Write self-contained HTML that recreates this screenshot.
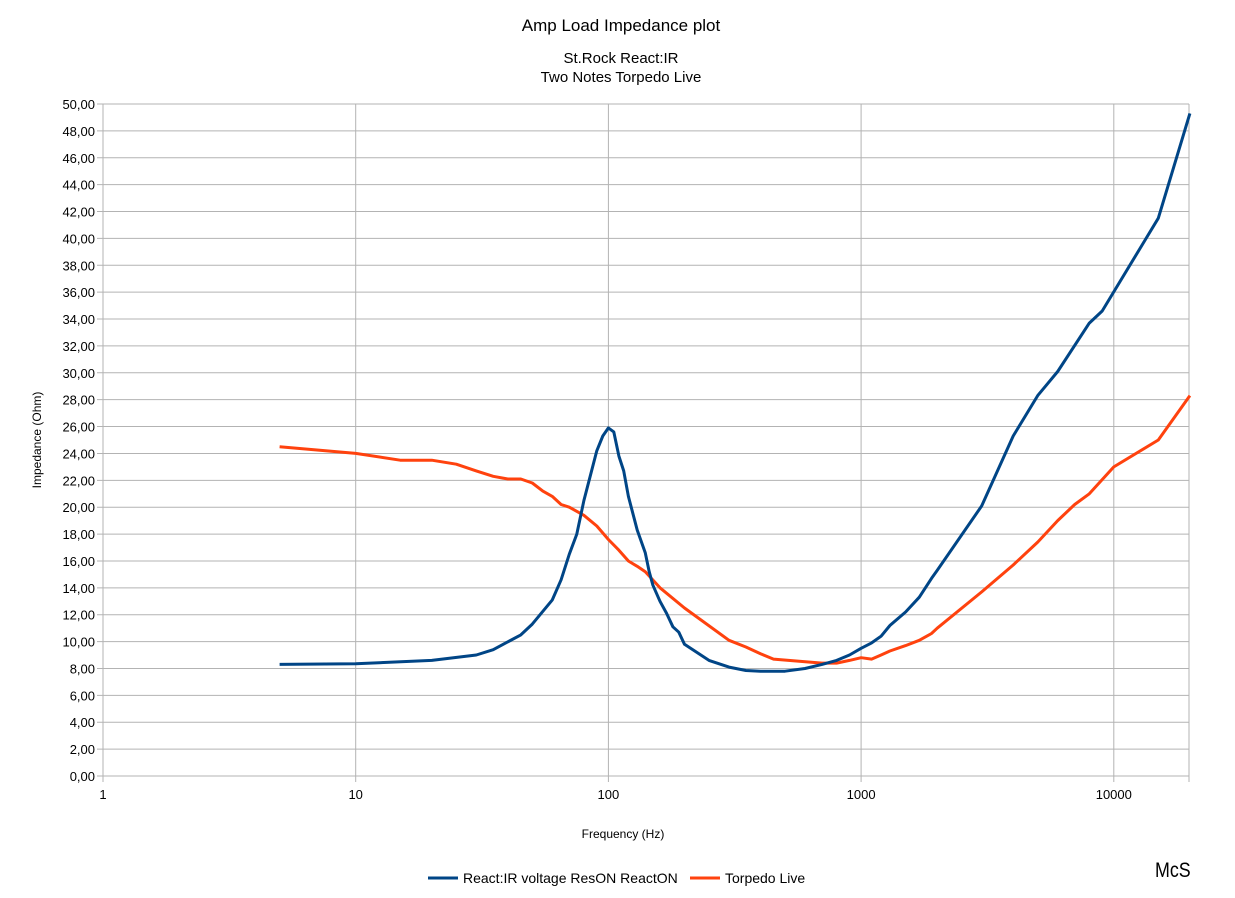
<!DOCTYPE html>
<html><head><meta charset="utf-8"><style>
body{margin:0;background:#fff;}
svg{display:block;font-family:"Liberation Sans",sans-serif;}
</style></head><body>
<svg id="s" width="1235" height="898" xmlns="http://www.w3.org/2000/svg">
<rect width="1235" height="898" fill="#fff"/>
<g id="grid"></g>
<text x="621" y="31" text-anchor="middle" font-size="17">Amp Load Impedance plot</text>
<text x="621" y="63" text-anchor="middle" font-size="15">St.Rock React:IR</text>
<text x="621" y="82" text-anchor="middle" font-size="15">Two Notes Torpedo Live</text>
<text x="623" y="838" text-anchor="middle" font-size="12">Frequency (Hz)</text>
<text transform="translate(41,440) rotate(-90)" text-anchor="middle" font-size="12">Impedance (Ohm)</text>
<line x1="428" y1="878" x2="458" y2="878" stroke="#004586" stroke-width="3"/>
<text x="463" y="883" font-size="14">React:IR voltage ResON ReactON</text>
<line x1="690" y1="878" x2="720" y2="878" stroke="#ff420e" stroke-width="3"/>
<text x="725" y="883" font-size="14">Torpedo Live</text>
<text x="1155" y="877" font-size="21" transform="scale(0.85,1)" transform-origin="1155 877">McS</text>
<g id="series"></g>
</svg>
<script>
const NS="http://www.w3.org/2000/svg";
const X=f=>103+252.7*Math.log10(f), Y=v=>776-13.44*v;
const g=document.getElementById('grid');
function el(p,t,a,txt){const e=document.createElementNS(NS,t);for(const k in a)e.setAttribute(k,a[k]);if(txt!==undefined)e.textContent=txt;p.appendChild(e);return e;}
for(let v=0;v<=50;v+=2){const y=Y(v);el(g,'line',{x1:97,x2:1189,y1:y,y2:y,stroke:'#b3b3b3','stroke-width':1});
el(g,'text',{x:95,y:y+5,'text-anchor':'end','font-size':13},v.toFixed(2).replace('.',','));}
[1,10,100,1000,10000].forEach(f=>{const x=X(f);el(g,'line',{x1:x,x2:x,y1:104,y2:782,stroke:'#b3b3b3','stroke-width':1});
el(g,'text',{x:x,y:799,'text-anchor':'middle','font-size':13},String(f));});
el(g,'line',{x1:1189,x2:1189,y1:104,y2:782,stroke:'#b3b3b3','stroke-width':1});
const blue=[[5,8.3],[10,8.35],[20,8.6],[30,9.0],[35,9.4],[45,10.5],[50,11.3],[60,13.1],[65,14.6],[70,16.5],[75,18.0],[80,20.5],[90,24.2],[95,25.3],[100,25.9],[105,25.6],[110,23.8],[115,22.7],[120,20.8],[130,18.3],[140,16.6],[145,15.2],[150,14.2],[160,13.0],[170,12.1],[180,11.1],[190,10.7],[200,9.8],[250,8.6],[300,8.1],[350,7.85],[400,7.8],[500,7.8],[600,8.0],[700,8.3],[800,8.6],[900,9.0],[1000,9.5],[1100,9.9],[1200,10.4],[1300,11.2],[1500,12.2],[1700,13.3],[1900,14.7],[2000,15.3],[3000,20.1],[4000,25.3],[5000,28.3],[6000,30.1],[8000,33.7],[9000,34.6],[15000,41.5],[20000,49.3]];
const orange=[[5,24.5],[10,24.0],[15,23.5],[20,23.5],[25,23.2],[30,22.7],[35,22.3],[40,22.1],[45,22.1],[50,21.8],[55,21.2],[60,20.8],[65,20.2],[70,20.0],[80,19.4],[90,18.6],[100,17.6],[110,16.8],[120,16.0],[130,15.6],[140,15.2],[160,14.0],[200,12.5],[300,10.1],[350,9.6],[400,9.1],[450,8.7],[700,8.4],[800,8.4],[900,8.6],[1000,8.8],[1100,8.7],[1200,9.0],[1300,9.3],[1500,9.7],[1700,10.1],[1900,10.6],[2000,11.0],[3000,13.7],[4000,15.7],[5000,17.4],[6000,19.0],[7000,20.2],[8000,21.0],[10000,23.0],[15000,25.0],[20000,28.3]];
const s=document.getElementById('series');
function pl(d,c){el(s,'polyline',{points:d.map(p=>X(p[0]).toFixed(1)+','+Y(p[1]).toFixed(1)).join(' '),fill:'none',stroke:c,'stroke-width':3,'stroke-linejoin':'round'});}
pl(orange,'#ff420e');pl(blue,'#004586');
</script>
</body></html>
